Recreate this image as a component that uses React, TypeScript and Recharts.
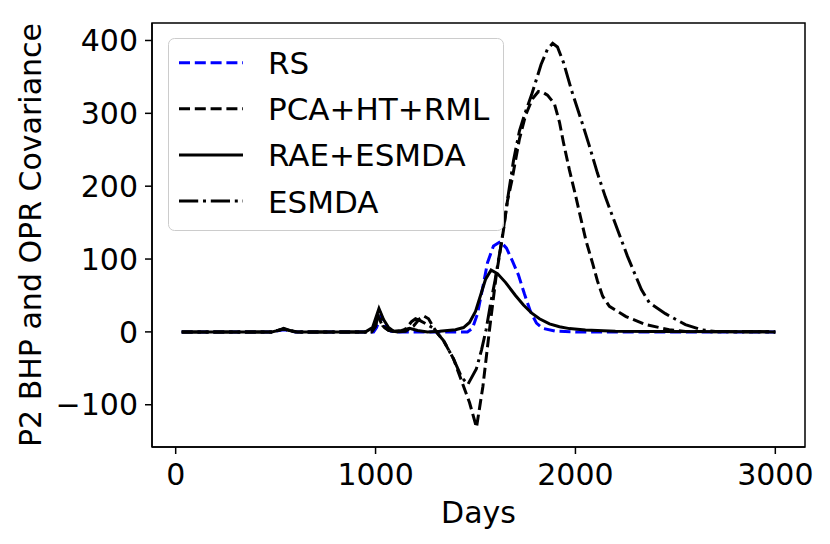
import React from 'react'
import {
  LineChart,
  Line,
  XAxis,
  YAxis,
  ReferenceArea,
  Legend,
} from 'recharts'

// RS
const rsDays = [30, 480, 540, 600, 990, 1005, 1028, 1050, 1075, 1100, 1460, 1485, 1510, 1537, 1560, 1590, 1625, 1655, 1685, 1715, 1745, 1775, 1805, 1835, 1900, 2000, 3000]
const rsCov = [0, 0, 3, 0, 0, 6, 23, 8, 1, 0, 0, 5, 25, 62, 95, 118, 124, 115, 97, 78, 52, 28, 12, 5, 1, 0, 0]

// PCA+HT+RML
const pcaDays = [30, 480, 540, 600, 980, 1000, 1012, 1035, 1065, 1110, 1150, 1190, 1220, 1240, 1265, 1290, 1310, 1340, 1390, 1430, 1470, 1505, 1537, 1570, 1603, 1640, 1660, 1682, 1720, 1750, 1785, 1815, 1836, 1860, 1895, 1920, 1940, 1970, 2000, 2025, 2053, 2086, 2110, 2136, 2170, 2253, 2352, 2469, 2550, 3000]
const pcaCov = [0, 0, 4, 0, 0, 8, 22, 8, 2, 0, 1, 8, 18, 22, 18, 6, -2, -12, -37, -67, -97, -131, -75, 3, 76, 140, 180, 208, 265, 297, 320, 330, 329, 325, 313, 288, 260, 222, 188, 158, 125, 94, 70, 49, 35, 21, 10, 3, 0.5, 0]

// RAE+ESMDA
const raeDays = [30, 480, 515, 540, 570, 610, 950, 985, 1017, 1040, 1065, 1090, 1130, 1170, 1210, 1260, 1320, 1400, 1440, 1470, 1500, 1525, 1550, 1578, 1610, 1650, 1700, 1740, 1780, 1820, 1870, 1920, 1970, 2050, 2200, 2400, 3000]
const raeCov = [0, 0, 2, 5, 2, 0, 0, 6, 32, 17, 6, 1, 2, 5, 2, 0, 1, 3, 6, 13, 28, 50, 72, 85, 80, 68, 50, 37, 26, 18, 11, 7, 4.5, 2.5, 1, 0.5, 0]

// ESMDA
const esDays = [30, 480, 540, 600, 980, 1000, 1015, 1037, 1065, 1110, 1150, 1180, 1200, 1225, 1260, 1290, 1310, 1340, 1390, 1430, 1462, 1504, 1530, 1553, 1575, 1598, 1632, 1662, 1690, 1720, 1750, 1780, 1803, 1828, 1860, 1886, 1910, 1940, 1980, 2030, 2070, 2110, 2150, 2200, 2260, 2330, 2370, 2450, 2550, 2630, 2700, 3000]
const esCov = [0, 0, 4, 0, 0, 8, 25, 8, 2, 0, 4, 14, 18, 15, 10, 5, -2, -12, -37, -62, -72, -51, -25, 3, 38, 71, 126, 185, 235, 276, 302, 325, 345, 367, 388, 396, 391, 370, 332, 290, 255, 218, 185, 148, 104, 58, 40, 25, 10, 3, 0.5, 0]

const xTicks = [0, 1000, 2000, 3000]
const yTicks = [-100, 0, 100, 200, 300, 400]
const xDomain = [-118.5, 3148.5]
const yDomain = [-158, 424]

const zip = (days: number[], vals: number[]) => days.map((d, i) => ({ day: d, v: vals[i] }))

const series = [
  { name: 'RS', data: zip(rsDays, rsCov), color: '#0000ff', dash: '11 4.8' },
  { name: 'PCA+HT+RML', data: zip(pcaDays, pcaCov), color: '#000000', dash: '11 4.8' },
  { name: 'RAE+ESMDA', data: zip(raeDays, raeCov), color: '#000000', dash: undefined },
  { name: 'ESMDA', data: zip(esDays, esCov), color: '#000000', dash: '19.2 4.8 3 4.8' },
]

const FONT = 'DejaVu Sans'
const minus = (v: number) => String(v).replace('-', '\u2212')

function BoxLegend() {
  return (
    <svg width={336} height={193} style={{ display: 'block' }}>
      <rect x={0.5} y={0.5} width={335} height={192} rx={6} fill="#fff" fillOpacity={0.8} stroke="#cccccc" />
      {series.map((s, i) => {
        const y = 24.7 + i * 46.1
        return (
          <g key={s.name}>
            <line x1={11} x2={75} y1={y} y2={y} stroke={s.color} strokeWidth={3} strokeDasharray={s.dash} />
            <text x={100} y={y + 11.5} fontSize={31} fontFamily={FONT} fill="#000">
              {s.name}
            </text>
          </g>
        )
      })}
    </svg>
  )
}

function YTitle(props: any) {
  const vb = props.viewBox || {}
  const cy = (vb.y || 0) + (vb.height || 0) / 2
  return (
    <text
      x={33}
      y={cy}
      transform={`rotate(-90, 33, ${cy})`}
      textAnchor="middle"
      fontSize={30}
      fontFamily={FONT}
      fill="#000"
    >
      P2 BHP and OPR Covariance
    </text>
  )
}

export default function App() {
  return (
    <div style={{ fontFamily: FONT, width: 814, height: 532 }}>
      <LineChart width={814} height={532} margin={{ top: 15, right: 17, bottom: 0, left: 0 }}>
        <XAxis
          type="number"
          dataKey="day"
          domain={xDomain}
          ticks={xTicks}
          allowDataOverflow
          height={93}
          tickSize={7}
          tickMargin={10}
          stroke="#000"
          strokeWidth={1.5}
          tick={{ fill: '#000', fontSize: 30, fontFamily: FONT }}
          label={{ value: 'Days', position: 'insideBottom', offset: 17, fill: '#000', fontSize: 30, fontFamily: FONT }}
        />
        <YAxis
          type="number"
          domain={yDomain}
          ticks={yTicks}
          allowDataOverflow
          width={144}
          tickSize={7}
          tickMargin={7}
          stroke="#000"
          strokeWidth={1.5}
          tickFormatter={minus}
          tick={{ fill: '#000', fontSize: 30, fontFamily: FONT }}
          label={<YTitle />}
        />
        <ReferenceArea
          x1={xDomain[0]}
          x2={xDomain[1]}
          y1={yDomain[0]}
          y2={yDomain[1]}
          fill="none"
          stroke="#000"
          strokeWidth={1.5}
          ifOverflow="extendDomain"
        />
        {series.map((s) => (
          <Line
            key={s.name}
            data={s.data}
            dataKey="v"
            name={s.name}
            type="linear"
            stroke={s.color}
            strokeWidth={3}
            strokeDasharray={s.dash}
            dot={false}
            activeDot={false}
            isAnimationActive={false}
          />
        ))}
        <Legend
          layout="vertical"
          align="center"
          verticalAlign="middle"
          wrapperStyle={{ left: 160, top: 30, width: 336, height: 193 }}
          content={() => <BoxLegend />}
        />
      </LineChart>
    </div>
  )
}
